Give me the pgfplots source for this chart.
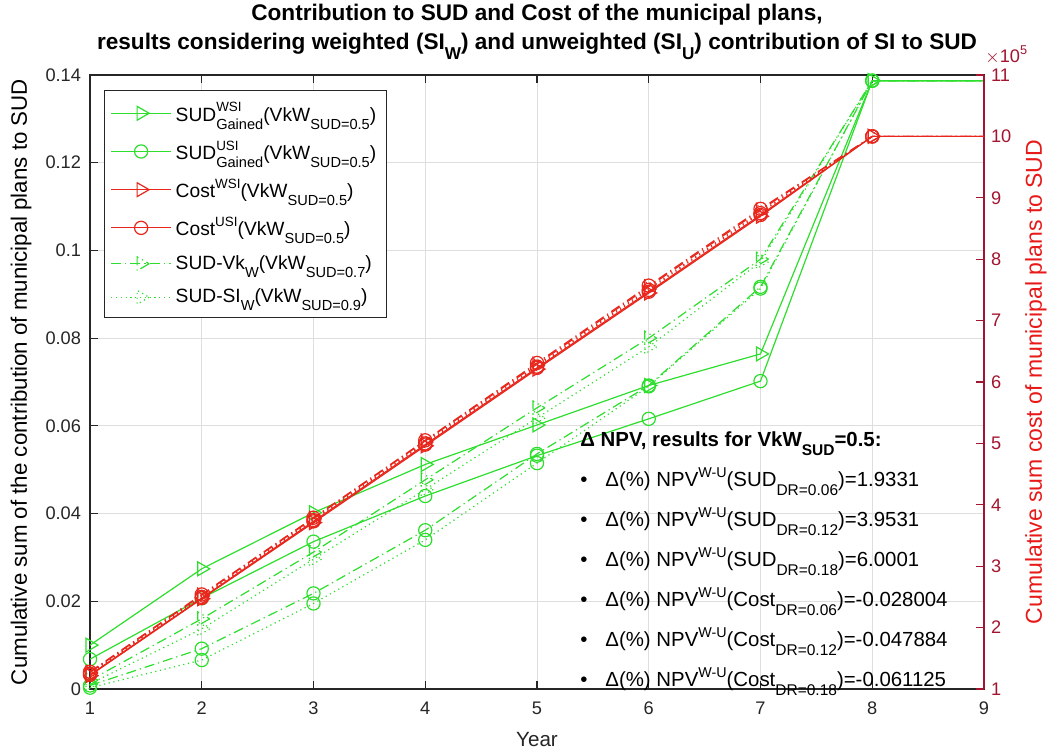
\documentclass[border=0pt]{standalone}
\usepackage{pgfplots}
\pgfplotsset{compat=1.18}
\usepackage{graphicx}
\usepackage{fontspec}
\setmainfont{Liberation Sans}
\definecolor{lgreen}{RGB}{45,222,45}
\definecolor{cred}{RGB}{232,38,28}
\definecolor{crim}{RGB}{162,20,47}
\definecolor{axgray}{RGB}{38,38,38}
\definecolor{gridgray}{RGB}{222,222,222}
\definecolor{lblred}{RGB}{232,25,25}
\newcommand{\lo}[1]{\raisebox{-0.42em}{\scalebox{0.76}{#1}}}
\newcommand{\hi}[1]{\raisebox{0.48em}{\scalebox{0.7}{#1}}}
\newcommand{\hilo}[2]{\rlap{\hi{#1}}\lo{#2}}
\pgfplotsset{
  base/.style={line width=0.6pt, mark options={solid, line width=0.6pt}},
  tri/.style={base, mark=triangle, mark size=4pt, mark options={rotate=-90}},
  circ/.style={base, mark=o, mark size=3.3pt},
  dashdot/.style={dash pattern=on 5pt off 2pt on 0.6pt off 2pt},
  dots/.style={dash pattern=on 0.6pt off 1.8pt},
  legend image code/.code={\draw[mark repeat=2,mark phase=2,#1] plot coordinates {(0pt,0pt) (15pt,0pt) (30pt,0pt)};},
}
\begin{document}
\begin{tikzpicture}
\useasboundingbox (-45pt,-32.5pt) rectangle (479.5pt,344.5pt);
% ---------------- left axis (SUD) ----------------
\begin{axis}[
  scale only axis, width=447pt, height=307pt,
  xmin=1, xmax=9, ymin=0, ymax=0.14,
  xtick={1,2,...,9}, ytick={0,0.02,0.04,0.06,0.08,0.1,0.12,0.14},
  scaled y ticks=false,
  yticklabel style={/pgf/number format/fixed, /pgf/number format/precision=2},
  /pgf/number format/assume math mode=true,
  ytick pos=left, xtick pos=both, tick align=inside,
  major tick length=4pt,
  grid=major, grid style={gridgray, line width=0.5pt},
  axis line style={axgray, line width=0.6pt},
  tick style={axgray, line width=0.6pt},
  ticklabel style={font=\fontsize{9.1}{10}\selectfont, text=axgray},
  xticklabel style={yshift=-3pt},
  yticklabel style={xshift=-1pt},
  xlabel={Year},
  ylabel={Cumulative sum of the contribution of municipal plans to SUD},
  label style={font=\fontsize{11.15}{12}\selectfont, text=black},
  xlabel style={at={(axis description cs:0.5,0)}, anchor=base, yshift=-28.9pt, text=axgray, font=\fontsize{10.3}{12}\selectfont},
  ylabel style={at={(axis description cs:-0.0705,0.5)}, anchor=base},
  clip=true,
]
% SUD WSI, VkW 0.5
\addplot[lgreen, tri] coordinates {(1,0.0100) (2,0.0274) (3,0.0402) (4,0.0512) (5,0.0602) (6,0.0692) (7,0.0764) (8,0.1387) (10,0.1387)};
% SUD USI, VkW 0.5
\addplot[lgreen, circ] coordinates {(1,0.0068) (2,0.0207) (3,0.0336) (4,0.0440) (5,0.0532) (6,0.0616) (7,0.0702) (8,0.1387) (10,0.1387)};
% SUD-Vk_W, VkW 0.7
\addplot[lgreen, tri, dashdot] coordinates {(1,0.0020) (2,0.0160) (3,0.0312) (4,0.0477) (5,0.0641) (6,0.0800) (7,0.0980) (8,0.1387) (10,0.1387)};
\addplot[lgreen, circ, dashdot] coordinates {(1,0.0008) (2,0.0092) (3,0.0218) (4,0.0362) (5,0.0536) (6,0.0692) (7,0.0917) (8,0.1387) (10,0.1387)};
% SUD-SI_W, VkW 0.9
\addplot[lgreen, tri, dots] coordinates {(1,0.0012) (2,0.0137) (3,0.0296) (4,0.0455) (5,0.0618) (6,0.0780) (7,0.0974) (8,0.1387) (10,0.1387)};
\addplot[lgreen, circ, dots] coordinates {(1,0.0003) (2,0.0066) (3,0.0195) (4,0.0340) (5,0.0515) (6,0.0690) (7,0.0913) (8,0.1387) (10,0.1387)};
\end{axis}
% ---------------- right axis (Cost) ----------------
\begin{axis}[
  scale only axis, width=447pt, height=307pt,
  xmin=1, xmax=9, ymin=1, ymax=11,
  axis x line=none, axis y line*=right,
  ytick={1,2,...,11},
  /pgf/number format/assume math mode=true,
  tick align=inside, major tick length=4pt,
  y axis line style={crim, line width=0.6pt},
  ytick style={crim, line width=0.6pt},
  yticklabel style={text=crim, font=\fontsize{9.1}{10}\selectfont, xshift=0pt},
  ylabel={Cumulative sum cost of municipal plans to SUD},
  ylabel style={at={(axis description cs:1.0648,0.5)}, anchor=base, rotate=0, text=lblred, font=\fontsize{11.5}{12}\selectfont},
  legend cell align=left,
  legend style={at={(axis description cs:0.0157,0.9756)}, anchor=north west,
    draw=axgray, line width=0.5pt, fill=white,
    font=\fontsize{9.6}{10}\selectfont, row sep=4.3pt, inner xsep=3pt, inner ysep=4pt},
]
\addlegendimage{lgreen, tri}
\addlegendimage{lgreen, circ}
\addlegendimage{cred, tri}
\addlegendimage{cred, circ}
\addlegendimage{lgreen, tri, dashdot}
\addlegendimage{lgreen, tri, dots}
\addplot[cred, tri, forget plot] coordinates {(1,1.22) (2,2.47) (3,3.71) (4,4.96) (5,6.21) (6,7.45) (7,8.70) (8,10.0) (10,10.0)};
\addplot[cred, circ, forget plot] coordinates {(1,1.23) (2,2.48) (3,3.73) (4,4.98) (5,6.23) (6,7.47) (7,8.72) (8,10.0) (10,10.0)};
\addplot[cred, tri, dashdot, forget plot] coordinates {(1,1.27) (2,2.53) (3,3.78) (4,5.04) (5,6.29) (6,7.55) (7,8.80) (8,10.0) (10,10.0)};
\addplot[cred, circ, dashdot, forget plot] coordinates {(1,1.28) (2,2.54) (3,3.79) (4,5.05) (5,6.31) (6,7.57) (7,8.82) (8,10.0) (10,10.0)};
\addplot[cred, tri, dots, forget plot] coordinates {(1,1.26) (2,2.51) (3,3.76) (4,5.02) (5,6.27) (6,7.52) (7,8.77) (8,10.0) (10,10.0)};
\addplot[cred, circ, dots, forget plot] coordinates {(1,1.25) (2,2.50) (3,3.75) (4,5.00) (5,6.25) (6,7.50) (7,8.75) (8,10.0) (10,10.0)};
\legend{
  SUD\hilo{WSI}{Gained}(VkW\lo{SUD=0.5}),
  SUD\hilo{USI}{Gained}(VkW\lo{SUD=0.5}),
  Cost\hi{WSI}(VkW\lo{SUD=0.5}),
  Cost\hi{USI}(VkW\lo{SUD=0.5}),
  SUD-Vk\lo{W}(VkW\lo{SUD=0.7}),
  SUD-SI\lo{W}(VkW\lo{SUD=0.9})
}
\end{axis}
% exponent, title
\node[anchor=base west, text=crim, font=\fontsize{9.1}{10}\selectfont, inner sep=0pt] at (447.5pt,313pt) {$\times$10\hi{5}};
\node[anchor=base, font=\bfseries\fontsize{11.3}{12}\selectfont] at (223.5pt,334pt) {Contribution to SUD and Cost of the municipal plans,};
\node[anchor=base, font=\bfseries\fontsize{11.3}{12}\selectfont] at (223.5pt,319.5pt) {results considering weighted (SI\lo{W}) and unweighted (SI\lo{U}) contribution of SI to SUD};
% annotation
\begin{scope}[every node/.style={anchor=base west, inner sep=0pt, font=\fontsize{10.2}{11}\selectfont}]
\node[font=\bfseries\fontsize{10.2}{11}\selectfont] at (245pt,121pt) {Δ NPV, results for VkW\lo{SUD}=0.5:};
\node at (245pt,101pt) {\makebox[12.5pt][l]{\textbullet}Δ(\%) NPV\hi{W-U}(SUD\lo{DR=0.06})=1.9331};
\node at (245pt,81pt) {\makebox[12.5pt][l]{\textbullet}Δ(\%) NPV\hi{W-U}(SUD\lo{DR=0.12})=3.9531};
\node at (245pt,61pt) {\makebox[12.5pt][l]{\textbullet}Δ(\%) NPV\hi{W-U}(SUD\lo{DR=0.18})=6.0001};
\node at (245pt,41pt) {\makebox[12.5pt][l]{\textbullet}Δ(\%) NPV\hi{W-U}(Cost\lo{DR=0.06})=-0.028004};
\node at (245pt,21pt) {\makebox[12.5pt][l]{\textbullet}Δ(\%) NPV\hi{W-U}(Cost\lo{DR=0.12})=-0.047884};
\node at (245pt,1pt) {\makebox[12.5pt][l]{\textbullet}Δ(\%) NPV\hi{W-U}(Cost\lo{DR=0.18})=-0.061125};
\end{scope}
\end{tikzpicture}
\end{document}
